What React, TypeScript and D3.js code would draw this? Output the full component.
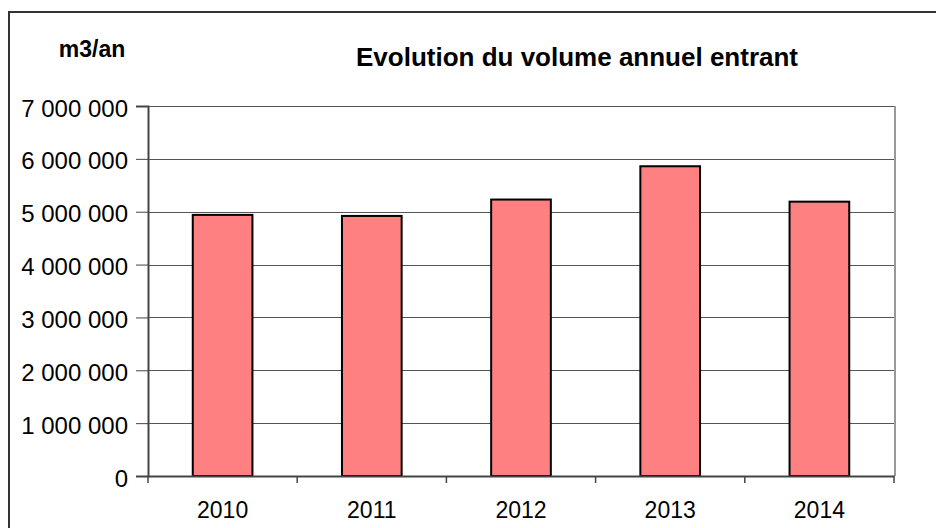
import React, { useEffect, useRef } from "react";
import * as d3 from "d3";

const years = ["2010", "2011", "2012", "2013", "2014"];
const volumes = [4940000, 4920000, 5230000, 5860000, 5190000];
const yTicks = [0, 1000000, 2000000, 3000000, 4000000, 5000000, 6000000, 7000000];

const chartTitle = "Evolution du volume annuel entrant";
const unitLabel = "m3/an";

export default function App() {
  const ref = useRef<SVGSVGElement | null>(null);

  useEffect(() => {
    const svg = d3.select(ref.current);
    svg.selectAll("*").remove();

    const W = 936;
    const H = 528;
    const m = { top: 106, right: 42, bottom: 52, left: 148 };
    const font = "'Liberation Sans', Arial, sans-serif";

    svg.append("rect").attr("width", W).attr("height", H).attr("fill", "#fff");

    // outer frame
    svg
      .append("rect")
      .attr("x", 9)
      .attr("y", 12)
      .attr("width", W + 10)
      .attr("height", H + 10)
      .attr("fill", "none")
      .attr("stroke", "#333")
      .attr("stroke-width", 2);

    const x = d3
      .scaleBand()
      .domain(years)
      .range([m.left, W - m.right])
      .paddingInner(0.6)
      .paddingOuter(0.3);

    const y = d3
      .scaleLinear()
      .domain([0, 7000000])
      .range([H - m.bottom, m.top]);

    const fmt = (v: number) => d3.format(",")(v).replace(/,/g, " ");

    // gridlines
    svg
      .append("g")
      .selectAll("line")
      .data(yTicks.slice(1))
      .join("line")
      .attr("x1", m.left)
      .attr("x2", W - m.right)
      .attr("y1", (d) => Math.round(y(d)) + 0.5)
      .attr("y2", (d) => Math.round(y(d)) + 0.5)
      .attr("stroke", "#555")
      .attr("stroke-width", 1);

    // right border of plot area
    svg
      .append("line")
      .attr("x1", W - m.right + 1)
      .attr("x2", W - m.right + 1)
      .attr("y1", m.top)
      .attr("y2", H - m.bottom)
      .attr("stroke", "#999")
      .attr("stroke-width", 2);

    // bars
    svg
      .append("g")
      .selectAll("rect")
      .data(volumes)
      .join("rect")
      .attr("x", (_, i) => x(years[i])!)
      .attr("y", (d) => y(d))
      .attr("width", x.bandwidth())
      .attr("height", (d) => y(0) - y(d))
      .attr("fill", "#FF8080")
      .attr("stroke", "#000")
      .attr("stroke-width", 2);

    // y axis
    const yAxis = svg
      .append("g")
      .attr("transform", `translate(${m.left},0)`)
      .call(
        d3
          .axisLeft(y)
          .tickValues(yTicks)
          .tickFormat((d) => fmt(d as number))
          .tickSize(12)
          .tickPadding(8)
      );
    yAxis.select(".domain").attr("stroke", "#444").attr("stroke-width", 2);
    yAxis.selectAll(".tick line").attr("stroke", "#444");
    yAxis
      .selectAll("text")
      .attr("font-family", font)
      .attr("font-size", 24)
      .attr("dy", "0.42em")
      .attr("fill", "#000");

    // x axis
    const xTickPos = d3.range(years.length + 1).map((i) => m.left + i * x.step());
    const xAxis = svg
      .append("g")
      .attr("transform", `translate(0,${H - m.bottom})`)
      .call(d3.axisBottom(x).tickSize(0).tickPadding(26));
    xAxis.select(".domain").attr("stroke", "#444").attr("stroke-width", 2);
    xAxis
      .selectAll("text")
      .attr("font-family", font)
      .attr("font-size", 23)
      .attr("fill", "#000");
    xAxis
      .selectAll("line.sep")
      .data(xTickPos)
      .join("line")
      .attr("class", "sep")
      .attr("x1", (d) => d)
      .attr("x2", (d) => d)
      .attr("y1", 0)
      .attr("y2", 7)
      .attr("stroke", "#444")
      .attr("stroke-width", 1.5);

    svg
      .append("text")
      .attr("x", 92)
      .attr("y", 57)
      .attr("text-anchor", "middle")
      .attr("font-family", font)
      .attr("font-weight", "bold")
      .attr("font-size", 23)
      .text(unitLabel);

    svg
      .append("text")
      .attr("x", 577)
      .attr("y", 66)
      .attr("text-anchor", "middle")
      .attr("font-family", font)
      .attr("font-weight", "bold")
      .attr("font-size", 26)
      .text(chartTitle);
  }, []);

  return (
    <svg
      ref={ref}
      width={936}
      height={528}
      style={{ position: "absolute", left: 0, top: 0 }}
    />
  );
}
